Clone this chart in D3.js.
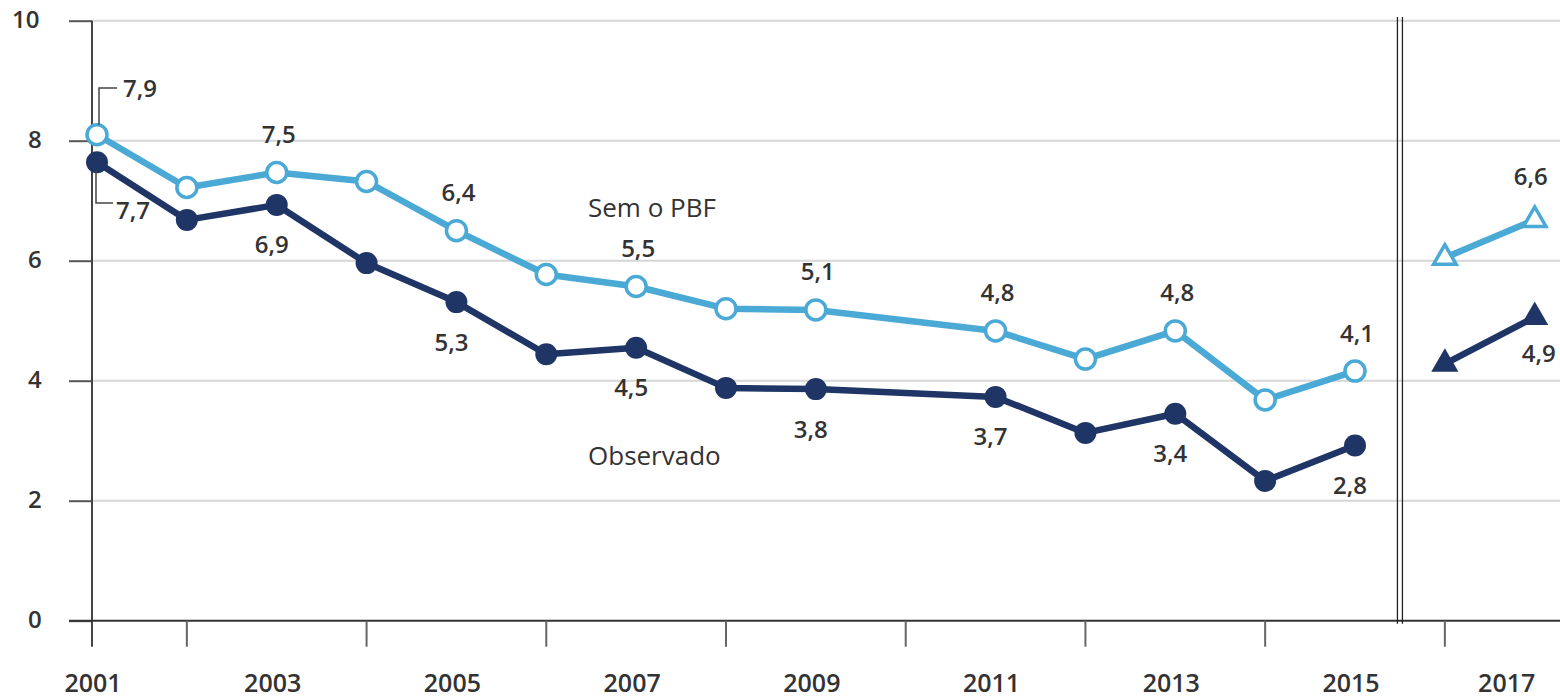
<!DOCTYPE html>
<html>
<head>
<meta charset="utf-8">
<script src="https://cdn.jsdelivr.net/npm/d3@7"></script>
<style>
body { margin: 0; background: #fff; }
svg text { font-family: "Open Sans", "Noto Sans", sans-serif; fill: #333; }
</style>
</head>
<body>
<script>
// years with a PNAD survey (2010 has none)
var years = [2001, 2002, 2003, 2004, 2005, 2006, 2007, 2008, 2009, 2011, 2012, 2013, 2014, 2015];
var semPbf = [8.1, 7.22, 7.47, 7.32, 6.5, 5.77, 5.57, 5.2, 5.18, 4.83, 4.36, 4.83, 3.68, 4.16];
var observado = [7.64, 6.68, 6.93, 5.96, 5.31, 4.44, 4.55, 3.88, 3.86, 3.73, 3.13, 3.45, 2.33, 2.92];
var semPbfLabels = ["7,9", null, "7,5", null, "6,4", null, "5,5", null, "5,1", "4,8", null, "4,8", null, "4,1"];
var observadoLabels = ["7,7", null, "6,9", null, "5,3", null, "4,5", null, "3,8", "3,7", null, "3,4", null, "2,8"];

// projection after the break
var projYears = [2016, 2017];
var semPbfProj = [6.05, 6.68];
var observadoProj = [4.28, 5.06];
var semPbfProjLabels = [null, "6,6"];
var observadoProjLabels = [null, "4,9"];

var yTicks = [0, 2, 4, 6, 8, 10];
var xTickYears = [2001, 2002, 2004, 2006, 2008, 2010, 2012, 2014, 2016];
var xLabelYears = [2001, 2003, 2005, 2007, 2009, 2011, 2013, 2015, 2017];

var width = 1560, height = 699;
var axisX = 92;
var lightBlue = "#4aa9d5", navy = "#1f3566";
var numSize = "24px";

var svg = d3.select("body").append("svg")
    .attr("width", width)
    .attr("height", height);

var x = d3.scaleLinear().domain([2001, 2015]).range([97, 1355]);
var y = d3.scaleLinear().domain([0, 10]).range([620.7, 20.7]);

// gridlines
svg.selectAll(".grid").data(yTicks.filter(function(d) { return d > 0; }))
    .enter().append("line")
    .attr("x1", axisX).attr("x2", width)
    .attr("y1", function(d) { return y(d); })
    .attr("y2", function(d) { return y(d); })
    .style("stroke", "#d6d6d6")
    .style("stroke-width", 2);

// y axis
var yAxis = d3.axisLeft(y).tickValues(yTicks).tickSize(23).tickPadding(49)
    .tickFormat(d3.format("d"));
var gy = svg.append("g").attr("transform", "translate(" + axisX + ",0)").call(yAxis);
gy.select(".domain").remove();
gy.selectAll(".tick line").style("stroke", "#555").style("stroke-width", 2);
gy.selectAll(".tick text")
    .attr("text-anchor", "start")
    .style("font-size", numSize).style("font-weight", 600)
    .style("fill", "#333").attr("dy", "0.3em");
gy.selectAll(".tick text").attr("x", function(d) { return d === 10 ? -80 : -64; });
svg.append("line")
    .attr("x1", axisX).attr("x2", axisX)
    .attr("y1", y(10)).attr("y2", y(0) + 26)
    .style("stroke", "#444").style("stroke-width", 2);

// x axis
svg.append("line")
    .attr("x1", axisX - 23).attr("x2", width)
    .attr("y1", y(0)).attr("y2", y(0))
    .style("stroke", "#333").style("stroke-width", 2);
svg.selectAll(".xtick").data(xTickYears.slice(1))
    .enter().append("line")
    .attr("x1", function(d) { return x(d); })
    .attr("x2", function(d) { return x(d); })
    .attr("y1", y(0)).attr("y2", y(0) + 26)
    .style("stroke", "#666").style("stroke-width", 2);
svg.selectAll(".xlabel").data(xLabelYears)
    .enter().append("text")
    .attr("x", function(d) { return x(d) - (d === 2017 ? 28 : 4); })
    .attr("y", 692)
    .attr("text-anchor", "middle")
    .style("font-size", "25px").style("font-weight", 600)
    .text(function(d) { return d; });

// break marker
[-2.5, 2.5].forEach(function(o) {
    svg.append("line")
        .attr("x1", x(2015.5) + o).attr("x2", x(2015.5) + o)
        .attr("y1", 17).attr("y2", y(0) + 3)
        .style("stroke", "#222").style("stroke-width", 1.3);
});

function series(vals, color, filled, labels, above) {
    var pts = years.map(function(d, i) { return [d, vals[i], labels[i]]; });
    svg.append("path").datum(pts)
        .attr("d", d3.line().x(function(d) { return x(d[0]); }).y(function(d) { return y(d[1]); }))
        .style("fill", "none").style("stroke", color).style("stroke-width", 6.5)
        .style("stroke-linejoin", "round");
    svg.selectAll(null).data(pts).enter().append("circle")
        .attr("cx", function(d) { return x(d[0]); })
        .attr("cy", function(d) { return y(d[1]); })
        .attr("r", filled ? 11 : 10)
        .style("fill", filled ? color : "#fff")
        .style("stroke", color).style("stroke-width", filled ? 0 : 3.5);
    svg.selectAll(null).data(pts.filter(function(d, i) { return d[2] && i > 0; }))
        .enter().append("text")
        .attr("x", function(d) { return x(d[0]) + (above ? 2 : -5); })
        .attr("y", function(d) { return y(d[1]) + (above ? -38 : 40); })
        .attr("dy", "0.35em")
        .attr("text-anchor", "middle")
        .style("font-size", numSize).style("font-weight", 600)
        .text(function(d) { return d[2]; });
}

function projection(vals, color, filled, labels, above) {
    var pts = projYears.map(function(d, i) { return [d, vals[i], labels[i]]; });
    svg.append("path").datum(pts)
        .attr("d", d3.line().x(function(d) { return x(d[0]); }).y(function(d) { return y(d[1]); }))
        .style("fill", "none").style("stroke", color).style("stroke-width", 6.5);
    svg.selectAll(null).data(pts).enter().append("path")
        .attr("transform", function(d) { return "translate(" + x(d[0]) + "," + y(d[1]) + ")"; })
        .attr("d", d3.symbol().type(d3.symbolTriangle).size(filled ? 320 : 220))
        .style("fill", filled ? color : "#fff")
        .style("stroke", color).style("stroke-width", filled ? 0 : 3.5);
    svg.selectAll(null).data(pts.filter(function(d) { return d[2]; }))
        .enter().append("text")
        .attr("x", function(d) { return x(d[0]) + (above ? -4 : 4); })
        .attr("y", function(d) { return y(d[1]) + (above ? -43 : 36); })
        .attr("dy", "0.35em")
        .attr("text-anchor", "middle")
        .style("font-size", numSize).style("font-weight", 600)
        .text(function(d) { return d[2]; });
}

series(observado, navy, true, observadoLabels, false);
series(semPbf, lightBlue, false, semPbfLabels, true);
projection(observadoProj, navy, true, observadoProjLabels, false);
projection(semPbfProj, lightBlue, false, semPbfProjLabels, true);

// 2001 labels with leader brackets
var x01 = x(2001);
svg.append("path")
    .attr("d", "M" + (x01 + 2) + "," + (y(semPbf[0]) - 10) + "V88H" + (x01 + 20))
    .style("fill", "none").style("stroke", "#444").style("stroke-width", 1.5);
svg.append("text").attr("x", x01 + 26).attr("y", 89).attr("dy", "0.35em")
    .style("font-size", numSize).style("font-weight", 600).text(semPbfLabels[0]);
svg.append("path")
    .attr("d", "M" + (x01 - 1) + "," + (y(observado[0]) + 8) + "V203H" + (x01 + 16))
    .style("fill", "none").style("stroke", "#444").style("stroke-width", 1.5);
svg.append("text").attr("x", x01 + 19).attr("y", 211).attr("dy", "0.35em")
    .style("font-size", numSize).style("font-weight", 600).text(observadoLabels[0]);

// series names
svg.append("text").attr("x", 588).attr("y", 208).attr("dy", "0.35em")
    .style("font-size", "26px").style("font-weight", 500).text("Sem o PBF");
svg.append("text").attr("x", 588).attr("y", 456).attr("dy", "0.35em")
    .style("font-size", "26px").style("font-weight", 500).text("Observado");
</script>
</body>
</html>
